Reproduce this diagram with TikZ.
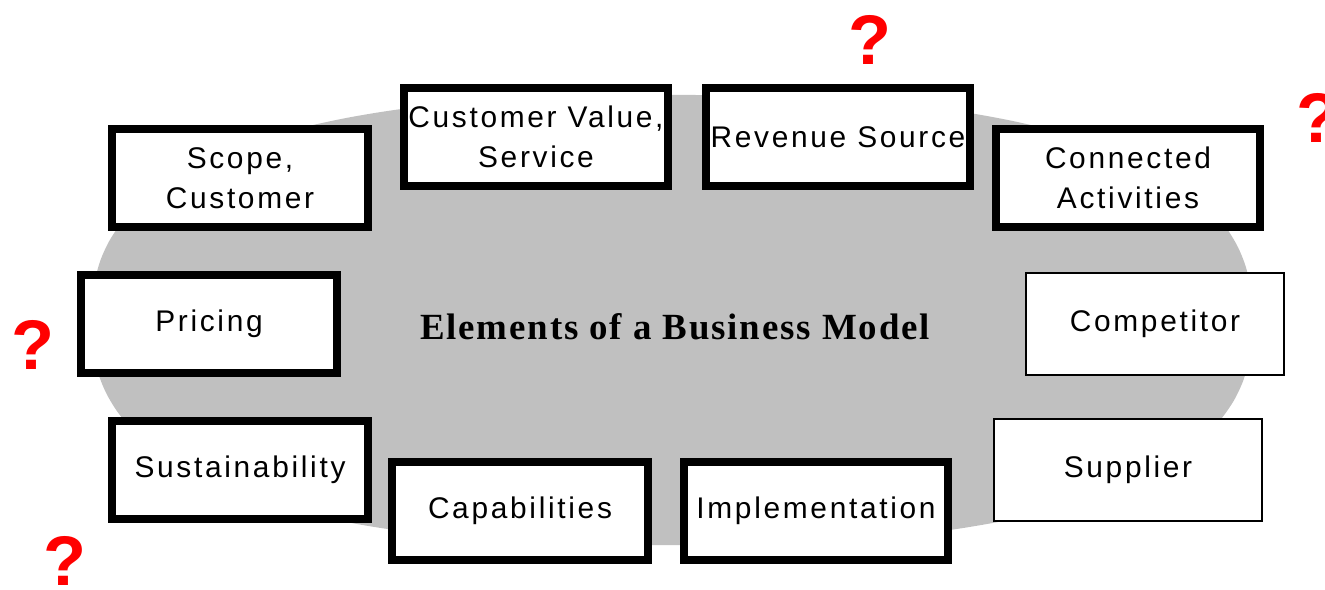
\documentclass[tikz,border=0pt]{standalone}
\usepackage{fontspec}
\setmainfont{Liberation Sans}[LetterSpace=9]
\newfontfamily\titlefont{Liberation Serif}[LetterSpace=5]
\newfontfamily\qfont{Liberation Sans}
\usetikzlibrary{
  positioning,  % Function "of" (e.g. [above=of x])
}
\definecolor{blobgray}{RGB}{192,192,192}
\definecolor{qred}{RGB}{255,0,0}
\def\mythick{0.16cm}
\def\mythin{0.04cm}
\def\myboxw{5.12cm}
\def\myboxh{1.96cm}
\tikzset{
  font=\fontsize{17}{23}\selectfont,
  elem/.style={
    draw,
    fill=white,
    line width=\mythick,
    inner sep=0mm,
    minimum width=\myboxw,
    minimum height=\myboxh,
    align=center
  },
  elem wide/.style={
    elem,
    minimum width=5.3cm
  },
  elem thin/.style={
    elem,
    line width=\mythin,
    minimum height=2.04cm
  },
  qmark/.style={
    text=qred,
    font=\qfont\fontsize{40}{40}\selectfont\bfseries
  },
  title/.style={
    font=\titlefont\bfseries\fontsize{21}{24}\selectfont
  }
}

\begin{document}
\begin{tikzpicture}[x=0.02cm,y=-0.02cm]
\useasboundingbox (0,0) rectangle (1325,589);
% grey blob behind the boxes
\fill[blobgray] plot[domain=1:361,samples=73,smooth]
  ({672+580*sign(cos(\x))*abs(cos(\x))^0.8},
   {320+225*sign(sin(\x))*abs(sin(\x))^0.8}) -- cycle;
\node[title] (model) at (675,327) {Elements of a Business Model};
% upper row
\node[elem]      (scope) at (240,178)  {Scope,\\Customer};
\node[elem wide] (value) at (536,137)  {Customer Value,\\Service};
\node[elem wide] (rev)   at (838,137)  {Revenue Source};
\node[elem wide] (conn)  at (1128,178) {Connected\\Activities};
% middle row
\node[elem]      (price) at (209,324)  {Pricing};
\node[elem thin,minimum width=5.16cm] (comp) at (1155,324) {Competitor};
% lower row
\node[elem]      (sust)  at (240,470)  {Sustainability};
\node[elem]      (capa)  at (520,511)  {Capabilities};
\node[elem wide] (impl)  at (816,511)  {Implementation};
\node[elem thin,minimum width=5.36cm] (supp) at (1128,470) {Supplier};
% question marks
\node[qmark] (q1) at (870,40)   {?};
\node[qmark] (q2) at (1318,118) {?};
\node[qmark] (q3) at (33,345)   {?};
\node[qmark] (q4) at (65,561)   {?};
\end{tikzpicture}
\end{document}
